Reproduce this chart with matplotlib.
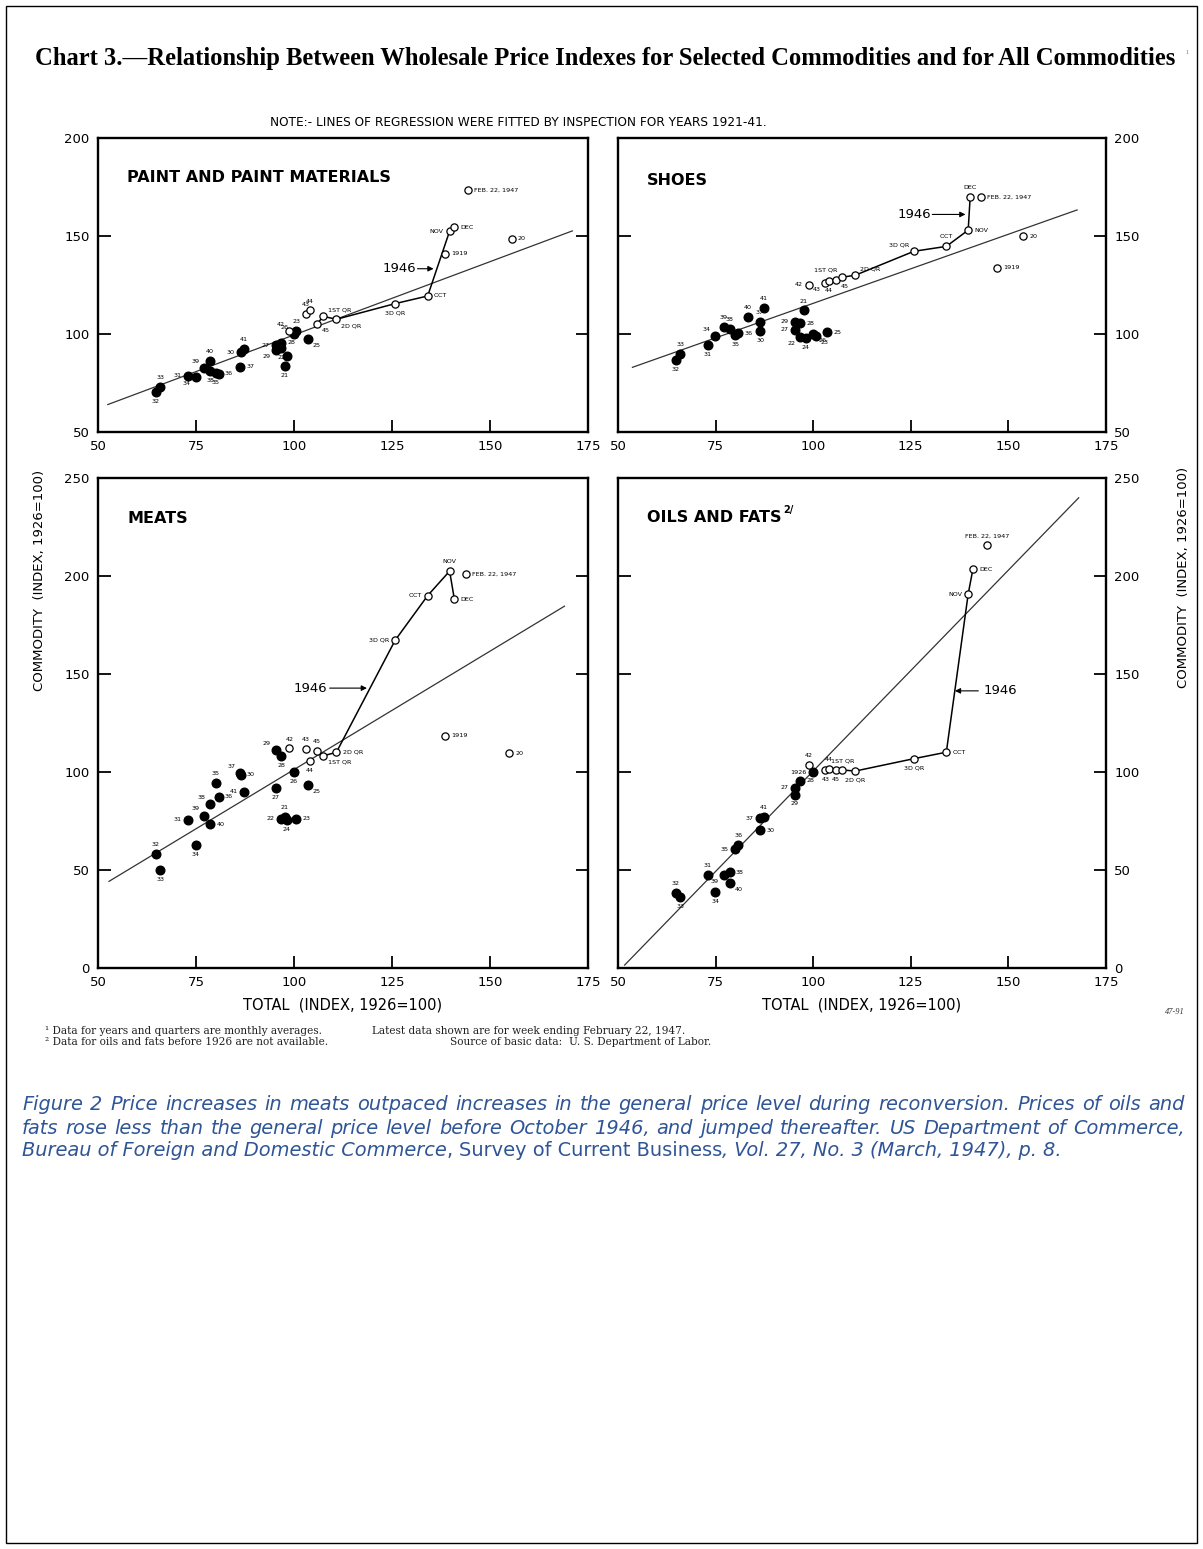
import matplotlib
matplotlib.use("Agg")
import matplotlib.pyplot as plt
from matplotlib.patches import Rectangle

# ---------------- data ----------------
x_ticks = [50, 75, 100, 125, 150, 175]
y_ticks_top = [50, 100, 150, 200]
y_ticks_bottom = [0, 50, 100, 150, 200, 250]

paint_labels = ["32", "33", "31", "34", "39", "40", "38", "35", "36", "37", "30", "41",
                "27", "29", "28", "22", "21", "24", "26", "23", "25",
                "42", "43", "44", "45", "1ST QR", "2D QR", "3D QR", "OCT", "NOV", "DEC",
                "FEB. 22, 1947", "1919", "20"]
paint_x = [64.8, 65.9, 73.0, 74.9, 77.1, 78.6, 78.6, 80.0, 80.8, 86.3, 86.4, 87.3,
           95.4, 95.3, 96.7, 96.7, 97.6, 98.1, 100.0, 100.6, 103.5,
           98.8, 103.1, 104.0, 105.8, 107.5, 110.8, 125.8, 134.1, 139.7, 140.9,
           144.3, 138.6, 155.5]
paint_y = [70.5, 73.0, 78.7, 78.0, 82.6, 86.0, 81.0, 80.0, 79.6, 83.2, 90.6, 92.5,
           94.3, 92.0, 95.5, 93.0, 83.5, 89.0, 100.0, 101.5, 97.5,
           101.3, 110.0, 112.0, 105.0, 109.0, 107.5, 115.5, 119.4, 152.5, 154.5,
           173.4, 141.0, 148.7]
paint_lpos = ["s", "n", "w", "sw", "nw", "n", "s", "s", "e", "e", "w", "n",
              "w", "sw", "e", "s", "s", "s", "nw", "n", "se",
              "nw", "n", "n", "se", "ne", "se", "s", "e", "w", "e",
              "e", "e", "e"]
paint_reg = [(52.5, 64.0), (171.0, 152.6)]
paint_arrow = (126.8, 133.3, 131.5, 135.6)   # text x, y, arrow tail x, arrow head x

shoes_labels = ["32", "33", "31", "34", "39", "38", "35", "36", "40", "37", "30", "41",
                "29", "27", "22", "28", "21", "24", "26", "23", "25",
                "42", "43", "44", "45", "1ST QR", "2D QR", "3D QR", "OCT", "NOV", "DEC",
                "FEB. 22, 1947", "1919", "20"]
shoes_x = [64.8, 65.9, 73.0, 74.9, 77.1, 78.6, 80.0, 80.8, 83.3, 86.3, 86.4, 87.3,
           95.3, 95.4, 96.7, 96.7, 97.6, 98.1, 100.0, 100.6, 103.5,
           98.8, 103.1, 104.0, 105.8, 107.5, 110.8, 125.8, 134.1, 139.7, 140.2,
           143.0, 147.2, 153.7]
shoes_y = [86.8, 90.0, 94.2, 98.8, 103.5, 102.5, 99.7, 100.5, 108.5, 106.3, 101.7, 113.3,
           106.3, 102.2, 98.5, 105.5, 112.0, 98.0, 100.0, 99.0, 100.8,
           125.0, 126.0, 127.0, 127.5, 129.0, 130.0, 142.2, 144.7, 153.0, 169.7,
           169.7, 133.8, 150.0]
shoes_lpos = ["s", "n", "s", "nw", "n", "n", "s", "e", "n", "n", "s", "n",
              "w", "w", "sw", "e", "n", "s", "se", "se", "e",
              "w", "sw", "s", "se", "nw", "ne", "nw", "n", "e", "n",
              "e", "e", "e"]
shoes_reg = [(53.7, 83.0), (167.6, 163.3)]
shoes_arrow = (125.9, 161.0, 130.5, 139.0)

meats_labels = ["32", "33", "34", "31", "39", "40", "38", "36", "35", "37", "30", "41",
                "27", "29", "28", "21", "22", "24", "23", "26", "25",
                "42", "43", "44", "45", "1ST QR", "2D QR", "3D QR", "OCT", "NOV", "DEC",
                "FEB. 22, 1947", "1919", "20"]
meats_x = [64.8, 65.9, 74.9, 73.0, 77.1, 78.6, 78.6, 80.8, 80.0, 86.3, 86.4, 87.3,
           95.4, 95.3, 96.7, 97.6, 96.7, 98.1, 100.6, 100.0, 103.5,
           98.8, 103.1, 104.0, 105.8, 107.5, 110.8, 125.8, 134.1, 139.7, 140.9,
           143.8, 138.4, 154.8]
meats_y = [58.0, 49.8, 62.8, 75.7, 77.8, 73.3, 83.7, 87.5, 94.5, 99.5, 98.7, 89.8,
           92.0, 111.0, 108.0, 77.0, 76.2, 75.7, 76.2, 100.0, 93.3,
           112.0, 111.6, 105.8, 110.8, 108.3, 110.0, 167.2, 190.0, 202.5, 188.2,
           200.8, 118.6, 109.5]
meats_lpos = ["n", "s", "s", "w", "nw", "e", "nw", "e", "n", "nw", "e", "w",
              "s", "nw", "s", "n", "w", "s", "e", "s", "se",
              "n", "n", "s", "n", "se", "e", "w", "w", "n", "e",
              "e", "e", "e"]
meats_reg = [(52.8, 44.2), (169.0, 184.6)]
meats_arrow = (104.1, 142.8, 109.1, 118.6)

oils_labels = ["1926", "27", "28", "29", "30", "31", "32", "33", "34", "35", "36", "37",
               "38", "39", "40", "41",
               "42", "43", "44", "45", "1ST QR", "2D QR", "3D QR", "OCT", "NOV", "DEC",
               "FEB. 22, 1947"]
oils_x = [100.0, 95.4, 96.7, 95.3, 86.4, 73.0, 64.8, 65.9, 74.9, 80.0, 80.8, 86.3,
          78.6, 77.1, 78.6, 87.3,
          98.8, 103.1, 104.0, 105.8, 107.5, 110.8, 125.8, 134.1, 139.7, 140.9,
          144.5]
oils_y = [100.0, 91.9, 95.6, 88.5, 70.3, 47.5, 38.2, 36.1, 39.0, 60.6, 62.8, 76.4,
          48.8, 47.5, 43.2, 77.0,
          103.7, 101.0, 101.5, 101.0, 101.0, 100.5, 106.8, 110.1, 190.8, 203.4,
          215.6]
oils_lpos = ["w", "w", "e", "s", "e", "n", "n", "s", "s", "w", "n", "w",
             "e", "sw", "se", "n",
             "n", "s", "n", "s", "n", "s", "s", "e", "w", "e",
             "n"]
oils_reg = [(51.7, 1.5), (168.0, 239.9)]
oils_arrow = (148.0, 141.4, 142.3, 136.3)

path_order = ["45", "1ST QR", "2D QR", "3D QR", "OCT", "NOV", "DEC"]

caption_lines = [
    "Figure 2 Price increases in meats outpaced increases in the general price level "
    "during reconversion. Prices of oils and",
    "fats rose less than the general price level before October 1946, and jumped "
    "thereafter. US Department of Commerce,",
]
caption_last = [("Bureau of Foreign and Domestic Commerce", "italic"), (", ", "normal"),
                ("Survey of Current Business", "normal"),
                (", Vol. 27, No. 3 (March, 1947), p. 8.", "italic")]

# ---------------- figure ----------------
W, H = 1203, 1549
fig = plt.figure(figsize=(W / 100, H / 100), dpi=100)
fig.patch.set_facecolor("white")
renderer = fig.canvas.get_renderer()

fig.add_artist(Rectangle((6 / W, 1 - 1543 / H), 1191 / W, 1537 / H, fill=False,
                         lw=1.0, edgecolor="black", transform=fig.transFigure))


def fx(x):
    return x / W


def fy(y):
    return 1 - y / H


def width_of(t):
    return t.get_window_extent(renderer=renderer).width


def fit_text(x0, x1, y, s, **kw):
    t = fig.text(fx(x0), fy(y), s, ha="left", va="center", fontsize=10, **kw)
    t.set_fontsize(10 * (x1 - x0) / width_of(t))
    return t


def make_ax(x0, y0, x1, y1):
    return fig.add_axes([fx(x0), fy(y1), (x1 - x0) / W, (y1 - y0) / H])


OFF = {"n": (0, 5.0, "center", "bottom"), "s": (0, -5.0, "center", "top"),
       "e": (4.5, 0, "left", "center"), "w": (-4.5, 0, "right", "center"),
       "ne": (3.5, 3.0, "left", "bottom"), "nw": (-3.5, 3.0, "right", "bottom"),
       "se": (3.5, -3.0, "left", "top"), "sw": (-3.5, -3.0, "right", "top")}


def is_filled(lab):
    if lab == "1926":
        return True
    return lab.isdigit() and len(lab) == 2 and 21 <= int(lab) <= 41


def draw_panel(box, ylim, yticks, side, title, labels, xs, ys, lpos, reg, arrow,
               title_y, sup=None):
    ax = make_ax(*box)
    ax.set_xlim(50, 175)
    ax.set_ylim(*ylim)
    ax.set_xticks(x_ticks)
    ax.set_yticks(yticks)
    for s in ax.spines.values():
        s.set_linewidth(1.7)
    ax.tick_params(axis="both", direction="in", length=9, width=1.3,
                   labelsize=9.5, pad=6)
    ax.tick_params(axis="y", left=True, right=True,
                   labelleft=(side == "left"), labelright=(side == "right"))

    ax.plot([reg[0][0], reg[1][0]], [reg[0][1], reg[1][1]], color="#333333",
            lw=0.9, zorder=2)
    idx = {lab: i for i, lab in enumerate(labels)}
    px = [xs[idx[l]] for l in path_order if l in idx]
    py = [ys[idx[l]] for l in path_order if l in idx]
    ax.plot(px, py, color="black", lw=1.1, zorder=3)

    for lab, x, y, p in zip(labels, xs, ys, lpos):
        if is_filled(lab):
            ax.plot(x, y, "o", ms=6.2, color="black", zorder=5)
        else:
            ax.plot(x, y, "o", ms=5.2, mfc="white", mec="black", mew=0.9, zorder=5)
        dx, dy, ha, va = OFF[p]
        ax.annotate(lab, (x, y), xytext=(dx, dy), textcoords="offset points",
                    ha=ha, va=va, fontsize=4.6, zorder=6)

    tx, ty, tail, head = arrow
    ax.text(tx, ty, "1946", fontsize=9.5, ha="center", va="center")
    ax.annotate("", xy=(head, ty), xytext=(tail, ty),
                arrowprops=dict(arrowstyle="-|>", lw=0.8, color="black",
                                mutation_scale=8, shrinkA=0, shrinkB=0))
    t = ax.text(57.5, title_y, title, fontsize=11.5, fontweight="bold",
                ha="left", va="center")
    if sup:
        bb = t.get_window_extent(renderer=renderer)
        x_end = ax.transData.inverted().transform((bb.x1, bb.y1))[0]
        ax.text(x_end + 0.5, title_y + 4, sup, fontsize=7, fontweight="bold",
                ha="left", va="center")
    return ax


LX0, LX1, RX0, RX1 = 98, 588, 618, 1106
TY0, TY1, BY0, BY1 = 138, 432, 478, 968

draw_panel((LX0, TY0, LX1, TY1), (50, 200), y_ticks_top, "left",
           "PAINT AND PAINT MATERIALS", paint_labels, paint_x, paint_y, paint_lpos,
           paint_reg, paint_arrow, 180)
draw_panel((RX0, TY0, RX1, TY1), (50, 200), y_ticks_top, "right",
           "SHOES", shoes_labels, shoes_x, shoes_y, shoes_lpos,
           shoes_reg, shoes_arrow, 178.5)
draw_panel((LX0, BY0, LX1, BY1), (0, 250), y_ticks_bottom, "left",
           "MEATS", meats_labels, meats_x, meats_y, meats_lpos,
           meats_reg, meats_arrow, 229.5)
draw_panel((RX0, BY0, RX1, BY1), (0, 250), y_ticks_bottom, "right",
           "OILS AND FATS", oils_labels, oils_x, oils_y, oils_lpos,
           oils_reg, oils_arrow, 229.8, sup="2/")

# axis titles
fig.text(fx(40), fy(580), "COMMODITY  (INDEX, 1926=100)", rotation=90,
         fontsize=9.5, ha="center", va="center")
fig.text(fx(1184), fy(577), "COMMODITY  (INDEX, 1926=100)", rotation=90,
         fontsize=9.5, ha="center", va="center")
fig.text(fx((LX0 + LX1) / 2), fy(1005), "TOTAL  (INDEX, 1926=100)",
         fontsize=10.5, ha="center", va="center")
fig.text(fx((RX0 + RX1) / 2), fy(1005), "TOTAL  (INDEX, 1926=100)",
         fontsize=10.5, ha="center", va="center")

# title and note
fit_text(35, 1178, 58,
         "Chart 3.\u2014Relationship Between Wholesale Price Indexes for Selected "
         "Commodities and for All Commodities", family="Liberation Serif",
         fontweight="bold")
fig.text(fx(1186), fy(54), "\u00b9", fontsize=8, family="Liberation Serif",
         color="#999999", ha="left", va="center")
fit_text(270, 765, 123,
         "NOTE:- LINES OF REGRESSION WERE FITTED BY INSPECTION FOR YEARS 1921-41.",
         family="DejaVu Sans")

# footnotes
fn = dict(family="DejaVu Serif", color="#222222", fontsize=7.6,
          ha="left", va="center")
fig.text(fx(45), fy(1031), "\u00b9 Data for years and quarters are monthly averages.", **fn)
fig.text(fx(372), fy(1031), "Latest data shown are for week ending February 22, 1947.", **fn)
fig.text(fx(45), fy(1042), "\u00b2 Data for oils and fats before 1926 are not available.", **fn)
fig.text(fx(450), fy(1042), "Source of basic data:  U. S. Department of Labor.", **fn)
fig.text(fx(1165), fy(1012), "47-91", fontsize=6, style="italic",
         family="Liberation Serif", ha="left", va="center", color="#333333")

# caption: justified first two lines, natural last line
cap_color = "#2F5597"
cap = dict(family=["Liberation Sans Narrow", "DejaVu Sans"], color=cap_color)
CX0, CX1 = 22, 1185
NATURAL_END = 1158

probe = fig.text(0, 0, caption_lines[0], fontsize=10, style="italic", **cap)
csize = 10 * (NATURAL_END - CX0) / width_of(probe)
probe.remove()

for line, y in zip(caption_lines, [1105, 1128]):
    words = line.split(" ")
    arts = [fig.text(0, fy(y), w, fontsize=csize, style="italic", ha="left",
                     va="center", **cap) for w in words]
    widths = [width_of(a) for a in arts]
    gap = (CX1 - CX0 - sum(widths)) / (len(words) - 1)
    x = CX0
    for a, w in zip(arts, widths):
        a.set_x(fx(x))
        x += w + gap

x = CX0
for s, st in caption_last:
    t = fig.text(fx(x), fy(1150), s, fontsize=csize, style=st, ha="left",
                 va="center", **cap)
    x += width_of(t)

fig.savefig("out.png", dpi=100, facecolor="white")
